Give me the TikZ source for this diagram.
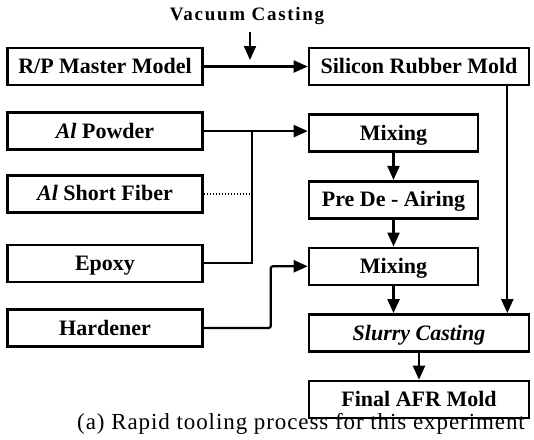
\documentclass[tikz,border=0pt]{standalone}
\usepackage{fontspec}
\setmainfont{Liberation Serif}
\newfontfamily\vcfont[LetterSpace=9]{Liberation Serif}
\newfontfamily\capfont[LetterSpace=4]{Liberation Serif}
\usetikzlibrary{arrows.meta,positioning,calc}

\begin{document}
\begin{tikzpicture}[
    x=1pt, y=-1pt,
    stage/.style={rectangle, draw=black, line width=2.6pt, minimum height=37pt, inner sep=0pt, text height=14.5pt, text depth=0pt, font=\bfseries\fontsize{22}{24}\selectfont},
    source/.style={stage, minimum width=195pt},
    mixer/.style={stage, minimum width=169pt},
    mold/.style={stage, minimum width=220pt},
    line/.style={line width=2.2pt},
    arrow/.style={line, -{Triangle[length=14pt,width=12pt]}}
]
\useasboundingbox (0,0) rectangle (534,439);

% left column: materials
\node (rp) [source] at (105,66.5) {R/P Master Model};
\node (alp) [source, below=25pt of rp] {\textit{Al} Powder};
\node (asf) [source, below=23pt of alp] {\textit{Al} Short Fiber};
\node (epx) [source, below=30pt of asf] {Epoxy};
\node (hrd) [source, below=25pt of epx] {Hardener};

% right column: process
\node (srm) [mold] at (419,66.5) {Silicon Rubber Mold};
\node (mix1) [mixer, below=27pt of srm.south west, anchor=north west] {Mixing};
\node (pda) [mixer, below=27pt of mix1] {Pre De - Airing};
\node (mix2) [mixer, below=27pt of pda] {Mixing};
\node (slurry) [mold, below=27pt of mix2.south west, anchor=north west] {\textit{Slurry Casting}};
\node (final) [mold, below=27pt of slurry] {Final AFR Mold};

\node (vc) at (247,16) {\vcfont\bfseries\fontsize{19}{22}\selectfont Vacuum Casting};
\coordinate (vctop) at (250,32);
\coordinate (vcend) at (250,60);
\coordinate (bus) at ($(alp.east)+(48,0)$);

\draw [arrow] (vctop) -- (vcend);
\draw [arrow] (rp.east) -- (srm.west);
\draw [arrow] ([xshift=-23pt]srm.south east) -- ([xshift=-23pt]slurry.north east);

\draw [arrow] (alp.east) -- (alp.east -| mix1.west);
\draw [line, line width=1.8pt, dash pattern=on 1.6pt off 1.4pt] (asf.east) -- (asf.east -| bus);
\draw [line] (epx.east) -| (bus);
\draw [arrow, rounded corners=2pt] (hrd.east) -- ++(67,0) |- (mix2.west);

\draw [arrow] (mix1) -- (pda);
\draw [arrow] (pda) -- (mix2);
\draw [arrow] (mix2.south) -- (mix2.south |- slurry.north);
\draw [arrow] (slurry) -- (final);

\node (caption) at (301,424) {\capfont\fontsize{23}{26}\selectfont (a) Rapid tooling process for this experiment};
\end{tikzpicture}
\end{document}
